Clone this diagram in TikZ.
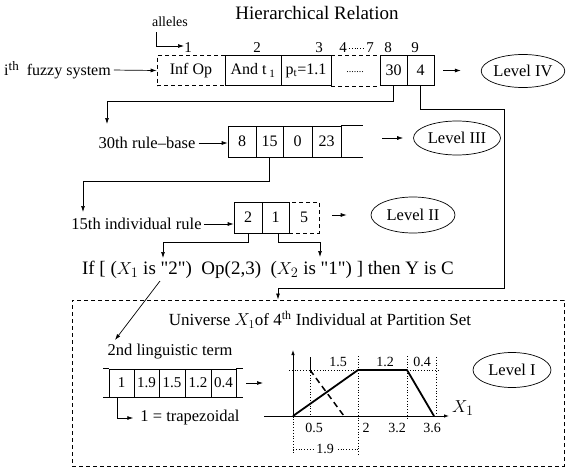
\documentclass[tikz,border=0pt]{standalone}
\usepackage{fontspec}
\setmainfont{Liberation Serif}
\newfontfamily\plainrm{Liberation Serif}
\usetikzlibrary{arrows.meta,shapes.geometric,calc}
\newcommand{\fs}[1]{\fontsize{#1}{#1}\selectfont}
\newcommand{\sq}{{\plainrm"}}
\begin{document}
\begin{tikzpicture}[x=1pt,y=-1pt,
  arr/.style={-{Latex[length=6pt,width=4pt]}, line width=0.7pt},
  sarr/.style={-{Latex[length=5pt,width=3.5pt]}, line width=0.8pt},
  ln/.style={line width=0.7pt},
  gene/.style={draw, line width=0.7pt, minimum height=30pt, inner sep=0pt, font=\fs{16}},
  lvl/.style={draw, ellipse, line width=0.7pt, inner sep=0pt, font=\fs{16.5}},
  txt/.style={inner sep=0pt, font=\fs{16.5}},
  num/.style={inner sep=0pt, font=\fs{15}},
  sml/.style={inner sep=0pt, font=\fs{14}},
  dsh/.style={dash pattern=on 4pt off 3pt},
  dot/.style={dotted, line width=0.8pt},
]
\useasboundingbox (0,0) rectangle (566,471);

% title and allele numbering
\node[inner sep=0pt, font=\fs{19}] (title) at (317,13) {Hierarchical Relation};
\node[inner sep=0pt, font=\fs{14}] (al) at (170,22) {alleles};
\coordinate (alA) at (156,32);
\coordinate (alB) at (184,46);
\node[num] (n1) at (188,48) {1};
\node[num] (n2) at (257,48) {2};
\node[num] (n3) at (319,48) {3};
\node[num] (n4) at (343,48) {4};
\node[num] (n7) at (370,48) {7};
\node[num] (n8) at (388,48) {8};
\node[num] (n9) at (415,48) {9};

% Level IV row
\node[txt, font=\fs{16}] (fz) at (57.5,70) {i{\fs{13}\raisebox{5pt}{th}}\ \ fuzzy system};
\node[gene, dsh, minimum width=68pt] (b1) at (191,70.5) {Inf Op};
\node[gene, minimum width=56pt] (b2) at (253,70.5) {And t\,\textsubscript{1}};
\node[gene, minimum width=50pt] (b3) at (306,70.5) {p\textsubscript{t}=1.1};
\node[gene, minimum width=27pt] (b8) at (393.5,70.5) {30};
\node[gene, minimum width=27pt] (b9) at (420.5,70.5) {4};
\node[inner sep=0pt, font=\fs{10}] (dots1) at (355,72) {.......};
\node[lvl, minimum width=82pt, minimum height=33pt] (L4) at (523,71) {Level IV};

% Level III row
\node[txt] (rb) at (147,143) {30th rule--base};
\node[gene, minimum width=28pt, minimum height=31pt] (g8) at (242,141.5) {8};
\node[gene, minimum width=27pt, minimum height=31pt] (g15) at (269.5,141.5) {15};
\node[gene, minimum width=29pt, minimum height=31pt] (g0) at (297.5,141.5) {0};
\node[gene, minimum width=29pt, minimum height=31pt] (g23) at (326.5,141.5) {23};
\coordinate (g3end) at (363,141.5);
\node[lvl, minimum width=87pt, minimum height=34pt] (L3) at (457,138) {Level III};

% Level II row
\node[txt] (ir) at (136.5,224) {15th individual rule};
\node[gene, minimum width=28pt, minimum height=31pt] (h2) at (248,217.5) {2};
\node[gene, minimum width=27pt, minimum height=31pt] (h1) at (275.5,217.5) {1};
\node[gene, dsh, minimum width=30pt, minimum height=31pt] (h5) at (304,217.5) {5};
\node[lvl, minimum width=84pt, minimum height=36pt] (L2) at (413,215) {Level II};

% rule
\node[inner sep=0pt, font=\fs{19}] (rule) at (268,270) {If [ ($X_1$ is \sq2\sq)~ Op(2,3)~ ($X_2$ is \sq1\sq) ] then Y is C};

% Level I box
\node[draw, dsh, line width=1pt, minimum width=492pt, minimum height=166pt, inner sep=0pt] (L1box) at (318,383) {};
\node[txt, font=\fs{17}] (uni) at (320,320) {Universe $X_1$of 4\textsuperscript{th} Individual at Partition Set};
\node[txt] (lt) at (170,352) {2nd linguistic term};
\node[gene, minimum width=25pt, minimum height=28pt, font=\fs{15}] (c1) at (121.5,383) {1};
\node[gene, minimum width=25pt, minimum height=28pt, font=\fs{15}] (c2) at (146.5,383) {1.9};
\node[gene, minimum width=26pt, minimum height=28pt, font=\fs{15}] (c3) at (172,383) {1.5};
\node[gene, minimum width=26pt, minimum height=28pt, font=\fs{15}] (c4) at (198,383) {1.2};
\node[gene, minimum width=25pt, minimum height=28pt, font=\fs{15}] (c5) at (223.5,383) {0.4};
\coordinate (cs) at (103,383);
\coordinate (ce) at (243,383);
\coordinate (ca) at (263,383);
\node[txt, inner sep=3pt] (trap) at (190,418) {1 = trapezoidal};
\node[lvl, minimum width=78pt, minimum height=35pt] (L1) at (512,370) {Level I};

% ---- connectors ----
\draw[arr] (alA) |- (alB);
\draw[dot, shorten <=2pt, shorten >=2pt] (n4.east) -- (n7.west);
\draw[arr, shorten <=3pt] (fz.east) -- (b1.west);
\draw[ln, dsh] (b3.north east) -- (b8.north west);
\draw[ln, dsh] (b3.south east) -- (b8.south west);
\draw[arr, shorten <=9pt, shorten >=20pt] (b9.east) -- (L4.west |- b9.east);

\coordinate (k1) at (107,101);
\coordinate (t30) at (107,124);
\draw[arr] (b8.south) |- (k1) -- (t30);
\coordinate (k2) at (504,109);
\coordinate (k3) at (278,288);
\draw[arr] (b9.south) |- (k2) |- (k3) -- (k3 |- L1box.north);

\draw[arr, shorten <=3pt] (rb.east) -- (rb.east -| g8.west);
\draw[ln] (g23.north east) -- (g3end |- g23.north);
\draw[ln] (g23.south east) -- (g3end |- g23.south);
\draw[arr, shorten <=19pt, shorten >=10pt] (g3end |- L3.west) -- (L3.west);
\coordinate (k4) at (83,181);
\coordinate (t15) at (83,212);
\draw[arr] (g15.south) |- (k4) -- (t15);

\draw[arr, shorten <=2pt] (ir.east) -- (ir.east -| h2.west);
\draw[arr, shorten <=13pt, shorten >=24pt] (h5.east |- L2.west) -- (L2.west);
\coordinate (k5) at (163,242);
\coordinate (t2) at (163,258);
\draw[arr] (h2.south) |- (k5) -- (t2);
\coordinate (k6) at (320,242);
\coordinate (t1) at (320,257);
\draw[arr] ([xshift=2.5pt]h1.south) |- (k6) -- (t1);

\coordinate (q2) at (160,281);
\coordinate (t2nd) at (115,340);
\draw[arr] (q2) -- (t2nd);

\draw[ln] (cs |- c1.north) -- (c1.north west);
\draw[ln] (cs |- c1.south) -- (c1.south west);
\draw[ln] (c5.north east) -- (ce |- c5.north);
\draw[ln] (c5.south east) -- (ce |- c5.south);
\draw[arr, shorten <=3pt] (ce) -- (ca);
\draw[arr, shorten >=4pt] ([xshift=-4.5pt]c1.south) |- (trap.west);

% ---- membership function plot ----
\draw[dot] (289,370) -- (358,370);
\draw[dot] (407,370) -- (439,370);
\draw[dot] (310,372) -- (310,416);
\draw[dot] (358,356) -- (358,455);
\draw[dot] (293,416) -- (293,455);
\draw[dot] (407,356) -- (407,420);
\draw[dot] (436,357) -- (436,416);
\draw[dot] (293,449) -- (358,449);
\draw[ln] (310,357) -- (310,372);
\draw[sarr] (264,416) -- (449,416);
\draw[sarr] (293,418) -- (293,350);
\draw[line width=1.8pt, line join=round] (293,416) -- (358,370) -- (407,370) -- (434,416);
\draw[line width=1.5pt, dash pattern=on 6pt off 4pt] (310,370) -- (344,416);
\node[inner sep=0pt, font=\fs{19}] (xl) at (463,408) {$X_1$};
\node[sml] (l15) at (338,362) {1.5};
\node[sml] (l12) at (385,362) {1.2};
\node[sml] (l04) at (422,362) {0.4};
\node[sml] (a05) at (314,428) {0.5};
\node[sml] (a2) at (366,428) {2};
\node[sml] (a32) at (397,428) {3.2};
\node[sml] (a36) at (432,428) {3.6};
\node[sml, fill=white, inner sep=2pt] (a19) at (325,449) {1.9};
\end{tikzpicture}
\end{document}
